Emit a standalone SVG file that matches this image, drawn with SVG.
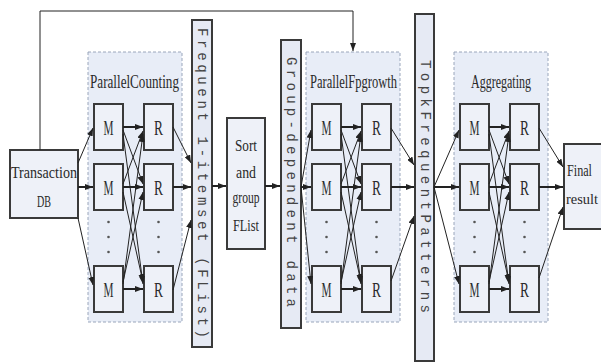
<svg xmlns="http://www.w3.org/2000/svg" width="601" height="363" viewBox="0 0 601 363">
<defs>
<marker id="ah" markerWidth="8" markerHeight="6" refX="8" refY="3" orient="auto" markerUnits="userSpaceOnUse"><path d="M0,0 L8,3 L0,6 z" fill="#222"/></marker>
<style>
.panel{fill:#e8edf7;stroke:#9aa6bb;stroke-width:1;stroke-dasharray:3,2}
.box{fill:#eef1f8;stroke:#3a3a3a;stroke-width:2}
.bar{fill:#e6eaf4;stroke:#3a3a3a;stroke-width:2}
.t{font-family:"Liberation Serif","DejaVu Serif",serif;fill:#2a2a2a}
.mr{font-family:"Liberation Serif","DejaVu Serif",serif;font-size:22px;fill:#2a2a2a;text-anchor:middle}
.vt{font-family:"Liberation Mono","DejaVu Sans Mono",monospace;font-size:14px;fill:#444;dominant-baseline:central}
.dot{fill:#555}
.c{stroke:#222;stroke-width:1;fill:none;marker-end:url(#ah)}
.ct{stroke:#222;stroke-width:2;fill:none;marker-end:url(#ah)}
</style>
</defs>
<rect width="601" height="363" fill="#fff"/>

<g id="panel-counting">
<rect class="panel" x="88" y="52" width="94" height="270"/>
<text class="t" x="90" y="88" font-size="18" textLength="89" lengthAdjust="spacingAndGlyphs">ParallelCounting</text>
</g>
<g id="panel-fpgrowth">
<rect class="panel" x="306" y="52" width="94" height="270"/>
<text class="t" x="310" y="88" font-size="18" textLength="87" lengthAdjust="spacingAndGlyphs">ParallelFpgrowth</text>
</g>
<g id="panel-aggregating">
<rect class="panel" x="454" y="52" width="94" height="270"/>
<text class="t" x="471" y="88" font-size="18" textLength="60" lengthAdjust="spacingAndGlyphs">Aggregating</text>
</g>

<g id="transaction-db">
<rect class="box" x="10" y="150" width="68" height="68"/>
<text class="t" x="11" y="178" font-size="17" textLength="66" lengthAdjust="spacingAndGlyphs">Transaction</text>
<text class="t" x="44" y="207" font-size="17" text-anchor="middle" textLength="14" lengthAdjust="spacingAndGlyphs">DB</text>
</g>

<g id="pc-m1"><rect class="box" x="94" y="104" width="29" height="46"/><text class="mr" x="108.5" y="135" textLength="10" lengthAdjust="spacingAndGlyphs">M</text></g>
<g id="pc-m2"><rect class="box" x="94" y="164" width="29" height="46"/><text class="mr" x="108.5" y="195" textLength="10" lengthAdjust="spacingAndGlyphs">M</text></g>
<g id="pc-m3"><rect class="box" x="94" y="266" width="29" height="46"/><text class="mr" x="108.5" y="297" textLength="10" lengthAdjust="spacingAndGlyphs">M</text></g>
<g id="pc-r1"><rect class="box" x="144" y="104" width="29" height="46"/><text class="mr" x="158.5" y="135" textLength="9" lengthAdjust="spacingAndGlyphs">R</text></g>
<g id="pc-r2"><rect class="box" x="144" y="164" width="29" height="46"/><text class="mr" x="158.5" y="195" textLength="9" lengthAdjust="spacingAndGlyphs">R</text></g>
<g id="pc-r3"><rect class="box" x="144" y="266" width="29" height="46"/><text class="mr" x="158.5" y="297" textLength="9" lengthAdjust="spacingAndGlyphs">R</text></g>
<g id="pc-dots">
<circle class="dot" cx="108.5" cy="222" r="1.3"/><circle class="dot" cx="108.5" cy="237" r="1.3"/><circle class="dot" cx="108.5" cy="252" r="1.3"/>
<circle class="dot" cx="158.5" cy="222" r="1.3"/><circle class="dot" cx="158.5" cy="237" r="1.3"/><circle class="dot" cx="158.5" cy="252" r="1.3"/>
</g>

<g id="pf-m1"><rect class="box" x="312" y="104" width="29" height="46"/><text class="mr" x="326.5" y="135" textLength="10" lengthAdjust="spacingAndGlyphs">M</text></g>
<g id="pf-m2"><rect class="box" x="312" y="164" width="29" height="46"/><text class="mr" x="326.5" y="195" textLength="10" lengthAdjust="spacingAndGlyphs">M</text></g>
<g id="pf-m3"><rect class="box" x="312" y="266" width="29" height="46"/><text class="mr" x="326.5" y="297" textLength="10" lengthAdjust="spacingAndGlyphs">M</text></g>
<g id="pf-r1"><rect class="box" x="362" y="104" width="29" height="46"/><text class="mr" x="376.5" y="135" textLength="9" lengthAdjust="spacingAndGlyphs">R</text></g>
<g id="pf-r2"><rect class="box" x="362" y="164" width="29" height="46"/><text class="mr" x="376.5" y="195" textLength="9" lengthAdjust="spacingAndGlyphs">R</text></g>
<g id="pf-r3"><rect class="box" x="362" y="266" width="29" height="46"/><text class="mr" x="376.5" y="297" textLength="9" lengthAdjust="spacingAndGlyphs">R</text></g>
<g id="pf-dots">
<circle class="dot" cx="326.5" cy="222" r="1.3"/><circle class="dot" cx="326.5" cy="237" r="1.3"/><circle class="dot" cx="326.5" cy="252" r="1.3"/>
<circle class="dot" cx="376.5" cy="222" r="1.3"/><circle class="dot" cx="376.5" cy="237" r="1.3"/><circle class="dot" cx="376.5" cy="252" r="1.3"/>
</g>

<g id="ag-m1"><rect class="box" x="460" y="104" width="29" height="46"/><text class="mr" x="474.5" y="135" textLength="10" lengthAdjust="spacingAndGlyphs">M</text></g>
<g id="ag-m2"><rect class="box" x="460" y="164" width="29" height="46"/><text class="mr" x="474.5" y="195" textLength="10" lengthAdjust="spacingAndGlyphs">M</text></g>
<g id="ag-m3"><rect class="box" x="460" y="266" width="29" height="46"/><text class="mr" x="474.5" y="297" textLength="10" lengthAdjust="spacingAndGlyphs">M</text></g>
<g id="ag-r1"><rect class="box" x="510" y="104" width="29" height="46"/><text class="mr" x="524.5" y="135" textLength="9" lengthAdjust="spacingAndGlyphs">R</text></g>
<g id="ag-r2"><rect class="box" x="510" y="164" width="29" height="46"/><text class="mr" x="524.5" y="195" textLength="9" lengthAdjust="spacingAndGlyphs">R</text></g>
<g id="ag-r3"><rect class="box" x="510" y="266" width="29" height="46"/><text class="mr" x="524.5" y="297" textLength="9" lengthAdjust="spacingAndGlyphs">R</text></g>
<g id="ag-dots">
<circle class="dot" cx="474.5" cy="222" r="1.3"/><circle class="dot" cx="474.5" cy="237" r="1.3"/><circle class="dot" cx="474.5" cy="252" r="1.3"/>
<circle class="dot" cx="524.5" cy="222" r="1.3"/><circle class="dot" cx="524.5" cy="237" r="1.3"/><circle class="dot" cx="524.5" cy="252" r="1.3"/>
</g>

<g id="flist-bar">
<rect class="bar" x="192" y="20" width="20" height="327"/>
<text class="vt" transform="translate(202,28) rotate(90)" textLength="310" lengthAdjust="spacing">Frequent 1-itemset (FList)</text>
</g>

<g id="sort-group">
<rect class="box" x="227" y="118" width="38" height="131"/>
<text class="t" x="246" y="151" font-size="17" text-anchor="middle" textLength="22" lengthAdjust="spacingAndGlyphs">Sort</text>
<text class="t" x="246" y="178" font-size="17" text-anchor="middle" textLength="20" lengthAdjust="spacingAndGlyphs">and</text>
<text class="t" x="246" y="203" font-size="17" text-anchor="middle" textLength="27" lengthAdjust="spacingAndGlyphs">group</text>
<text class="t" x="246" y="231" font-size="17" text-anchor="middle" textLength="26" lengthAdjust="spacingAndGlyphs">FList</text>
</g>

<g id="group-dependent-bar">
<rect class="bar" x="281" y="40" width="20" height="288"/>
<text class="vt" transform="translate(291,57) rotate(90)" textLength="250" lengthAdjust="spacing">Group-dependent data</text>
</g>

<g id="topk-bar">
<rect class="bar" x="415" y="14" width="19" height="347"/>
<text class="vt" transform="translate(424.5,60) rotate(90)" textLength="253" lengthAdjust="spacing">TopkFrequentPatterns</text>
</g>

<g id="final-result">
<rect class="box" x="564" y="144" width="46" height="85"/>
<text class="t" x="567" y="176" font-size="16" textLength="25" lengthAdjust="spacingAndGlyphs">Final</text>
<text class="t" x="566" y="204" font-size="14" textLength="32" lengthAdjust="spacingAndGlyphs">result</text>
</g>

<g id="connectors">
<path class="c" d="M40,150 V11 H353 V51" stroke-width="1.5"/>
<path class="c" d="M78,163 L93,128"/>
<path class="ct" d="M78,187 L93,187"/>
<path class="c" d="M78,218 L93,285"/>
<path class="ct" d="M123,127 L143,127"/>
<path class="ct" d="M123,187 L143,187"/>
<path class="ct" d="M123,289 L143,289"/>
<path class="c" d="M123,130 L143,184"/>
<path class="c" d="M123,134 L143,284"/>
<path class="c" d="M123,184 L143,131"/>
<path class="c" d="M123,192 L143,282"/>
<path class="c" d="M123,284 L143,134"/>
<path class="c" d="M123,282 L143,192"/>
<path class="c" d="M173,127 L191,163"/>
<path class="ct" d="M173,187 L191,187"/>
<path class="c" d="M173,290 L191,220"/>
<path class="ct" d="M212,186 L226,186"/>
<path class="ct" d="M265,186 L280,186"/>
<path class="c" d="M301,187 L311,130"/>
<path class="ct" d="M301,187 L311,187"/>
<path class="c" d="M301,187 L311,284"/>
<path class="ct" d="M341,127 L361,127"/>
<path class="ct" d="M341,187 L361,187"/>
<path class="ct" d="M341,289 L361,289"/>
<path class="c" d="M341,130 L361,184"/>
<path class="c" d="M341,134 L361,284"/>
<path class="c" d="M341,184 L361,131"/>
<path class="c" d="M341,192 L361,282"/>
<path class="c" d="M341,284 L361,134"/>
<path class="c" d="M341,282 L361,192"/>
<path class="c" d="M391,128 L414,165"/>
<path class="ct" d="M391,187 L414,187"/>
<path class="c" d="M391,281 L414,216"/>
<path class="c" d="M434,187 L459,130"/>
<path class="ct" d="M434,187 L459,187"/>
<path class="c" d="M434,187 L459,284"/>
<path class="ct" d="M489,127 L509,127"/>
<path class="ct" d="M489,187 L509,187"/>
<path class="ct" d="M489,289 L509,289"/>
<path class="c" d="M489,130 L509,184"/>
<path class="c" d="M489,134 L509,284"/>
<path class="c" d="M489,184 L509,131"/>
<path class="c" d="M489,192 L509,282"/>
<path class="c" d="M489,284 L509,134"/>
<path class="c" d="M489,282 L509,192"/>
<path class="c" d="M539,128 L563,167"/>
<path class="ct" d="M539,187 L563,187"/>
<path class="c" d="M539,278 L563,207"/>
</g>
</svg>
